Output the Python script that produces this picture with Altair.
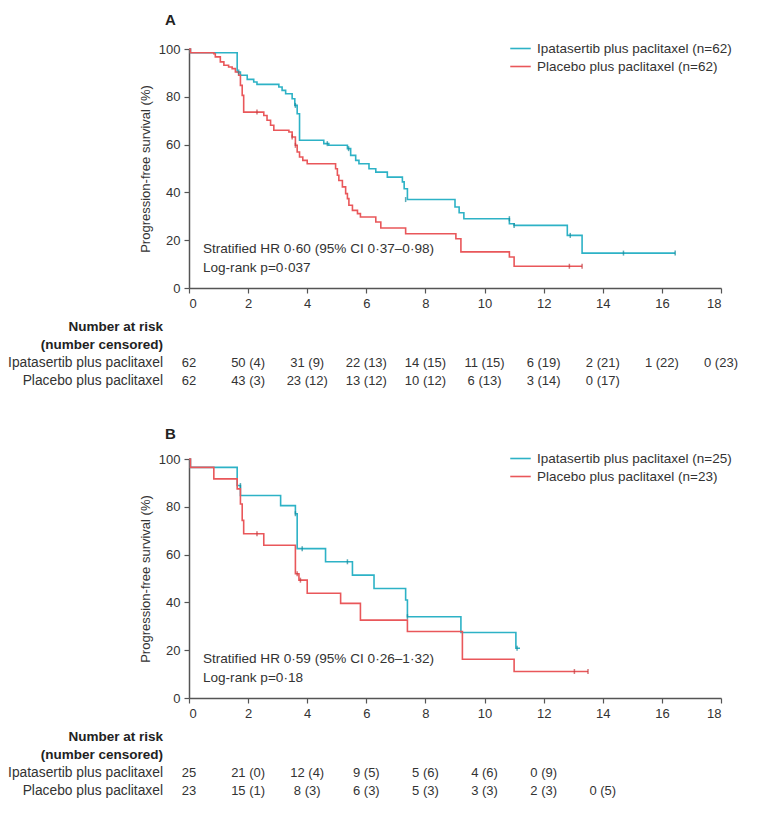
import altair as alt
import pandas as pd

FONT = "Liberation Sans"
BLUE = "#2db2c6"
RED = "#e9575a"
BLUE_D = "#14899a"
RED_D = "#c23a3f"
TXT = "#333333"
AXC = "#555555"

# ---------------- Panel A data ----------------
a_ipat_t = [0, 0.05, 1.63, 1.74, 1.97, 2.19, 2.3, 3.04, 3.15, 3.27, 3.49, 3.58, 3.66, 3.74, 4.56, 4.73,
            5.36, 5.47, 5.64, 5.75, 6.09, 6.32, 6.71, 7.22, 7.28, 7.39, 9.0, 9.14, 9.3, 10.84, 11.0,
            12.8, 13.3, 16.45]
a_ipat_s = [100, 98.4, 90.4, 89, 87.3, 86.2, 85.2, 84.1, 82.7, 81.3, 79.2, 76.4, 72.9, 61.8, 60.4, 59.7,
            58.3, 55.5, 53.4, 52, 49.9, 48.5, 46.4, 44.4, 41.5, 37, 33.9, 31.5, 29, 26.9, 26.2,
            22, 14.6, 14.6]
a_plac_t = [0, 0.05, 0.84, 0.89, 1.06, 1.18, 1.34, 1.46, 1.57, 1.68, 1.74, 1.8, 1.85, 2.53, 2.64, 2.76,
            2.87, 3.38, 3.49, 3.6, 3.66, 3.74, 3.85, 4.0, 4.96, 5.02, 5.07, 5.19, 5.3, 5.36, 5.41,
            5.53, 5.7, 5.8, 6.32, 6.49, 7.33, 9.03, 9.2, 10.84, 11.0, 13.3]
a_plac_s = [100, 98.4, 98, 96.7, 94.6, 93.2, 92.5, 91.8, 90.4, 89, 84.8, 80.6, 73.6, 72.2, 70.2, 68.1,
            66, 65.3, 63.2, 59.7, 56.9, 54.8, 53.4, 52, 49.9, 47.2, 45, 42.3, 39.5, 37.4, 34.6,
            32.5, 31.1, 29.7, 27.6, 25.1, 22.7, 20.6, 15.1, 13, 9.1, 9.1]
a_ipat_cens_t = [1.68, 3.6, 4.68, 5.4, 7.33, 10.84, 11.0, 12.9, 14.7, 16.45]
a_ipat_cens_s = [90.4, 76.4, 60.4, 58.3, 37, 29, 26.2, 22, 14.6, 14.6]
a_plac_cens_t = [2.3, 3.49, 3.6, 12.87, 13.3]
a_plac_cens_s = [73.6, 63.2, 59.7, 9.1, 9.1]
a_names = ["Ipatasertib plus paclitaxel (n=62)", "Placebo plus paclitaxel (n=62)"]
a_notes = ["Stratified HR 0·60 (95% CI 0·37–0·98)", "Log-rank p=0·037"]
a_risk_ipat = ["62", "50 (4)", "31 (9)", "22 (13)", "14 (15)", "11 (15)", "6 (19)", "2 (21)", "1 (22)", "0 (23)"]
a_risk_plac = ["62", "43 (3)", "23 (12)", "13 (12)", "10 (12)", "6 (13)", "3 (14)", "0 (17)"]

# ---------------- Panel B data ----------------
b_ipat_t = [0, 0.05, 1.63, 1.74, 3.1, 3.6, 3.66, 4.62, 5.53, 6.26, 7.33, 7.39, 9.2, 11.06, 11.2]
b_ipat_s = [100, 96.5, 88.9, 84.7, 80.5, 77.1, 62.5, 57, 51.4, 45.8, 41, 34, 27.4, 20.8, 20.8]
b_plac_t = [0, 0.05, 0.84, 1.63, 1.74, 1.8, 1.85, 2.53, 3.6, 3.72, 4.0, 5.13, 5.8, 7.39, 9.25, 11.0, 13.5]
b_plac_s = [100, 96.5, 91.7, 87.5, 81.2, 74.3, 68.7, 63.9, 52, 49.3, 43.8, 39.6, 32.6, 27.8, 16.2, 11.1, 11.1]
b_ipat_cens_t = [1.74, 3.6, 3.83, 5.36, 7.39, 11.1]
b_ipat_cens_s = [88.9, 77.1, 62.5, 57, 34, 20.8]
b_plac_cens_t = [2.3, 3.66, 3.77, 13.04, 13.5]
b_plac_cens_s = [68.7, 52, 49.3, 11.1, 11.1]
b_names = ["Ipatasertib plus paclitaxel (n=25)", "Placebo plus paclitaxel (n=23)"]
b_notes = ["Stratified HR 0·59 (95% CI 0·26–1·32)", "Log-rank p=0·18"]
b_risk_ipat = ["25", "21 (0)", "12 (4)", "9 (5)", "5 (6)", "4 (6)", "0 (9)"]
b_risk_plac = ["23", "15 (1)", "8 (3)", "6 (3)", "5 (3)", "3 (3)", "2 (3)", "0 (5)"]

risk_times = [0, 2, 4, 6, 8, 10, 12, 14, 16, 18]
row_labels = ["Ipatasertib plus paclitaxel", "Placebo plus paclitaxel"]
header_labels = ["Number at risk", "(number censored)"]
x_ticks = list(range(0, 19, 2))
y_ticks = list(range(0, 101, 20))

W, H = 532, 239


def km_panel(letter, title_offset, it, is_, pt, ps, ict, ics, pct, pcs, names, notes):
    lines = pd.concat([
        pd.DataFrame({"t": it, "s": is_, "series": names[0]}),
        pd.DataFrame({"t": pt, "s": ps, "series": names[1]}),
    ])
    xs = alt.Scale(domain=[0, 18], nice=False)
    ys = alt.Scale(domain=[0, 100], nice=False)
    xax = alt.Axis(values=x_ticks, format="d", title=None, grid=False, tickSize=5,
                   labelPadding=4, labelFontSize=13, labelFont=FONT, labelColor=TXT,
                   domainColor=AXC, tickColor=AXC, domainWidth=1.5, tickWidth=1.2)
    yax = alt.Axis(values=y_ticks, format="d", title="Progression-free survival (%)", grid=False,
                   tickSize=5, labelPadding=4, labelFontSize=13, labelFont=FONT, labelColor=TXT,
                   titleFont=FONT, titleFontSize=13, titleFontWeight="normal", titleColor=TXT,
                   titlePadding=6, domainColor=AXC, tickColor=AXC, domainWidth=1.5, tickWidth=1.2)
    base = alt.Chart(lines).mark_line(interpolate="step-after", strokeWidth=1.6).encode(
        x=alt.X("t:Q", scale=xs, axis=xax),
        y=alt.Y("s:Q", scale=ys, axis=yax),
        color=alt.Color("series:N",
                        scale=alt.Scale(domain=names, range=[BLUE, RED]),
                        legend=alt.Legend(orient="none", legendX=320, legendY=-12, title=None,
                                          symbolType="stroke", symbolSize=420, symbolStrokeWidth=1.6,
                                          labelFontSize=13.5, labelFont=FONT, labelColor=TXT,
                                          rowPadding=-2, labelLimit=400, labelOffset=5)),
    )
    c1 = alt.Chart(pd.DataFrame({"t": ict, "s": ics})).mark_tick(
        orient="vertical", size=5, thickness=1.5, color=BLUE_D).encode(
        x=alt.X("t:Q", scale=xs), y=alt.Y("s:Q", scale=ys))
    c2 = alt.Chart(pd.DataFrame({"t": pct, "s": pcs})).mark_tick(
        orient="vertical", size=5, thickness=1.5, color=RED_D).encode(
        x=alt.X("t:Q", scale=xs), y=alt.Y("s:Q", scale=ys))
    note = alt.Chart(pd.DataFrame({"t": [0.47, 0.47], "s": [16.5, 8.3], "label": notes})).mark_text(
        align="left", baseline="middle", fontSize=13.6, font=FONT, color=TXT).encode(
        x=alt.X("t:Q", scale=xs), y=alt.Y("s:Q", scale=ys), text="label:N")
    return alt.layer(base, c1, c2, note).properties(
        width=W, height=H,
        title=alt.TitleParams(letter, anchor="start", frame="group", dx=-24, offset=title_offset,
                              fontSize=15, fontWeight="bold", font=FONT, color="#222"),
    )


def risk_table(ipat, plac):
    rows = ["h1", "h2", "ipat", "plac"]
    df = pd.concat([
        pd.DataFrame({"t": risk_times[:len(ipat)], "txt": ipat, "row": "ipat"}),
        pd.DataFrame({"t": risk_times[:len(plac)], "txt": plac, "row": "plac"}),
    ])
    ys = alt.Scale(domain=rows)
    nums = alt.Chart(df).mark_text(fontSize=13, font=FONT, color=TXT, baseline="middle").encode(
        x=alt.X("t:Q", scale=alt.Scale(domain=[0, 18], nice=False), axis=None),
        y=alt.Y("row:O", scale=ys, axis=None),
        text="txt:N")
    labs = alt.Chart(pd.DataFrame({"row": ["ipat", "plac"], "txt": row_labels})).mark_text(
        fontSize=13.8, font=FONT, color=TXT, align="right", baseline="middle").encode(
        x=alt.value(-26), y=alt.Y("row:O", scale=ys, axis=None), text="txt:N")
    heads = alt.Chart(pd.DataFrame({"row": ["h1", "h2"], "txt": header_labels})).mark_text(
        fontSize=13.5, font=FONT, color="#222", fontWeight="bold", align="right", baseline="middle").encode(
        x=alt.value(-26), y=alt.Y("row:O", scale=ys, axis=None), text="txt:N")
    return alt.layer(nums, labs, heads).properties(width=W, height=72)


pA = km_panel("A", 9, a_ipat_t, a_ipat_s, a_plac_t, a_plac_s, a_ipat_cens_t, a_ipat_cens_s,
              a_plac_cens_t, a_plac_cens_s, a_names, a_notes)
pB = km_panel("B", 5, b_ipat_t, b_ipat_s, b_plac_t, b_plac_s, b_ipat_cens_t, b_ipat_cens_s,
              b_plac_cens_t, b_plac_cens_s, b_names, b_notes)
rA = risk_table(a_risk_ipat, a_risk_plac)
rB = risk_table(b_risk_ipat, b_risk_plac)

upper = alt.vconcat(pA, rA, spacing=8).resolve_scale(color="independent")
lower = alt.vconcat(pB, rB, spacing=8).resolve_scale(color="independent")
chart = alt.vconcat(upper, lower, spacing=37).resolve_scale(color="independent").properties(
    padding={"left": 0, "top": 5, "right": 5, "bottom": 5}
).configure_view(stroke=None)

chart.save("out.html", embed_options={"renderer": "svg", "actions": False})
